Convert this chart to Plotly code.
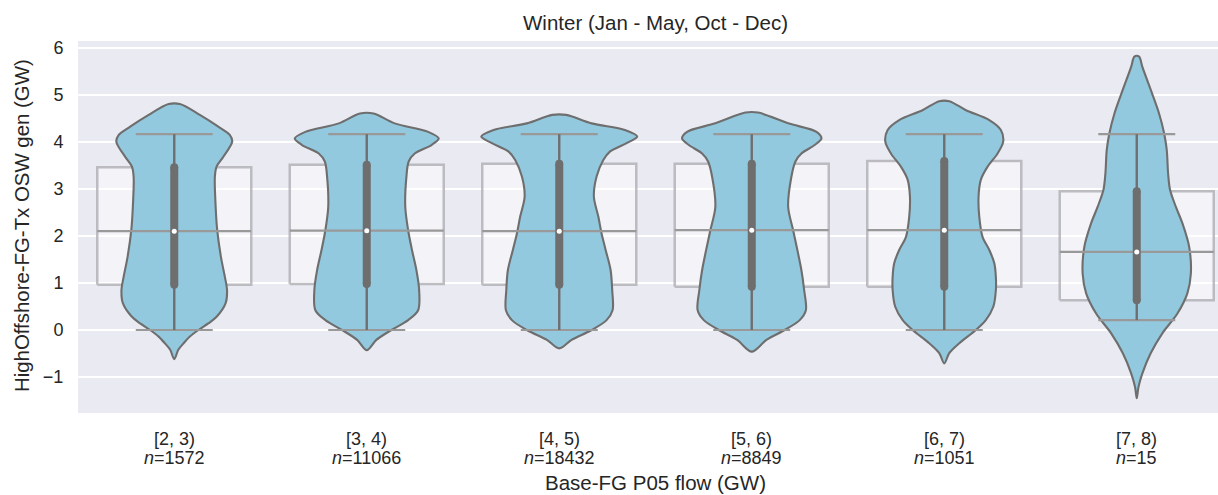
import plotly.graph_objects as go

# Flow bins on the x axis and number of hours in each bin
categories = ["[2, 3)", "[3, 4)", "[4, 5)", "[5, 6)", "[6, 7)", "[7, 8)"]
counts = [1572, 11066, 18432, 8849, 1051, 15]

# Box statistics of generation (GW) per bin
q1 = [0.96, 0.98, 0.96, 0.92, 0.92, 0.63]
median = [2.10, 2.11, 2.10, 2.12, 2.12, 1.66]
q3 = [3.46, 3.51, 3.53, 3.53, 3.59, 2.95]
whisker_lo = [0.0, 0.0, 0.0, 0.0, 0.0, 0.21]
whisker_hi = [4.16, 4.16, 4.16, 4.16, 4.16, 4.16]

# Kernel density profiles (GW level, relative density; peak of all bins = 1)
kde_level = [
    [-0.62, -0.42, -0.29, -0.14, 0.00, 0.14, 0.28, 0.57, 0.85, 1.13, 1.56,
     2.12, 2.62, 3.26, 3.47, 3.68, 4.00, 4.14, 4.32, 4.57, 4.80],
    [-0.43, -0.21, 0.00, 0.21, 0.42, 0.85, 1.27, 1.70, 2.12, 2.62, 3.26,
     3.58, 3.75, 3.93, 4.07, 4.21, 4.39, 4.60],
    [-0.39, -0.21, 0.00, 0.21, 0.42, 0.85, 1.27, 1.70, 2.05, 2.41, 2.83,
     3.26, 3.61, 3.79, 3.97, 4.11, 4.25, 4.39, 4.57],
    [-0.46, -0.21, 0.00, 0.21, 0.42, 0.85, 1.27, 1.70, 2.12, 2.62, 3.26,
     3.58, 3.75, 3.93, 4.07, 4.21, 4.39, 4.62],
    [-0.71, -0.49, -0.28, 0.00, 0.21, 0.50, 0.85, 1.13, 1.42, 1.70, 1.98,
     2.41, 2.83, 3.19, 3.47, 3.75, 4.00, 4.25, 4.46, 4.67, 4.86],
    [-1.45, -1.21, -0.92, -0.49, -0.07, 0.35, 0.78, 1.20, 1.77, 2.27, 2.62,
     2.98, 3.33, 3.82, 4.18, 4.60, 5.10, 5.59, 5.81],
]
kde_density = [
    [0.0, 0.052, 0.116, 0.200, 0.309, 0.437, 0.543, 0.659, 0.677, 0.649, 0.598,
     0.551, 0.531, 0.521, 0.543, 0.630, 0.743, 0.714, 0.565, 0.328, 0.072],
    [0.0, 0.123, 0.316, 0.531, 0.659, 0.672, 0.637, 0.580, 0.531, 0.494, 0.509,
     0.538, 0.615, 0.830, 0.923, 0.788, 0.358, 0.086],
    [0.0, 0.158, 0.415, 0.607, 0.684, 0.679, 0.659, 0.595, 0.543, 0.501, 0.444,
     0.479, 0.565, 0.649, 0.864, 1.000, 0.842, 0.415, 0.089],
    [0.0, 0.188, 0.422, 0.615, 0.694, 0.672, 0.637, 0.585, 0.531, 0.467, 0.509,
     0.560, 0.637, 0.807, 0.894, 0.830, 0.467, 0.081],
    [0.0, 0.064, 0.193, 0.405, 0.533, 0.630, 0.662, 0.662, 0.642, 0.578, 0.491,
     0.449, 0.440, 0.469, 0.556, 0.684, 0.756, 0.726, 0.578, 0.279, 0.064],
    [0.0, 0.022, 0.072, 0.180, 0.328, 0.521, 0.649, 0.694, 0.672, 0.585, 0.501,
     0.427, 0.402, 0.385, 0.351, 0.286, 0.180, 0.072, 0.030],
]

y_ticks = [-1, 0, 1, 2, 3, 4, 5, 6]

# Styling
FONT = "Liberation Sans, Arial, sans-serif"
TEXT = "#262626"
BG = "#EAEAF2"
VIOLIN_FILL = "#93C9DE"
VIOLIN_LINE = "#6E6E6E"
BOX_LINE = "#999999"
VIOLIN_HALF = 0.405   # half width of the widest violin (category units)
BOX_HALF = 0.4
CAP_HALF = 0.2

W, H = 1218, 495
L, R, T, B = 78, 0, 41, 82
plot_w = W - L - R
plot_h = H - T - B
# categorical spacing: 192.5 px per bin, first bin centred 96 px from the left edge
x_range = [-0.5, -0.5 + plot_w / 192.5]
y_range = [-1.763, 6.14]


def paper_y(px):
    """Pixel row (from the top of the figure) to paper y."""
    return ((H - B) - px) / plot_h


fig = go.Figure()

# translucent boxes behind the violins
for i in range(len(categories)):
    fig.add_trace(go.Scatter(
        x=[i - BOX_HALF, i + BOX_HALF, i + BOX_HALF, i - BOX_HALF, i - BOX_HALF],
        y=[q1[i], q1[i], q3[i], q3[i], q1[i]],
        mode="lines", fill="toself",
        fillcolor="rgba(255,255,255,0.45)",
        line=dict(color="rgba(170,170,175,0.75)", width=2.5),
        hoverinfo="skip", showlegend=False))

# violins
for i in range(len(categories)):
    lv = kde_level[i]
    dn = kde_density[i]
    right_x = [i + VIOLIN_HALF * d for d in dn]
    left_x = [i - VIOLIN_HALF * d for d in dn[::-1]]
    fig.add_trace(go.Scatter(
        x=right_x + left_x,
        y=lv + lv[::-1],
        mode="lines", fill="toself", fillcolor=VIOLIN_FILL,
        line=dict(color=VIOLIN_LINE, width=2.1, shape="spline", smoothing=0.9),
        hoverinfo="skip", showlegend=False))

# box medians and whisker caps drawn over the violins
for i in range(len(categories)):
    for (half, val) in [(BOX_HALF, median[i]), (CAP_HALF, whisker_lo[i]),
                        (CAP_HALF, whisker_hi[i])]:
        fig.add_trace(go.Scatter(
            x=[i - half, i + half], y=[val, val], mode="lines",
            line=dict(color=BOX_LINE, width=2.2),
            hoverinfo="skip", showlegend=False))

# inner box of each violin: whisker line, IQR bar with rounded ends, median dot
for i in range(len(categories)):
    fig.add_trace(go.Scatter(
        x=[i, i], y=[whisker_lo[i], whisker_hi[i]], mode="lines",
        line=dict(color=VIOLIN_LINE, width=2.4),
        hoverinfo="skip", showlegend=False))
    fig.add_trace(go.Scatter(
        x=[i, i], y=[q1[i], q3[i]], mode="lines+markers",
        line=dict(color=VIOLIN_LINE, width=8),
        marker=dict(color=VIOLIN_LINE, size=8, line=dict(width=0)),
        hoverinfo="skip", showlegend=False))
fig.add_trace(go.Scatter(
    x=list(range(len(categories))), y=median, mode="markers",
    marker=dict(color="white", size=5, line=dict(width=0)),
    hoverinfo="skip", showlegend=False))

# two-line category labels under the axis
annotations = []
for i, (c, n) in enumerate(zip(categories, counts)):
    annotations.append(dict(
        text=c, xref="x", yref="paper", x=i, y=paper_y(439),
        xanchor="center", yanchor="middle", showarrow=False,
        font=dict(size=18, color=TEXT)))
    annotations.append(dict(
        text=f"<i>n</i>={n}", xref="x", yref="paper", x=i, y=paper_y(458),
        xanchor="center", yanchor="middle", showarrow=False,
        font=dict(size=18, color=TEXT)))

annotations += [
    dict(text="Winter (Jan - May, Oct - Dec)", xref="paper", yref="paper",
         x=(655.5 - L) / plot_w, y=paper_y(22),
         xanchor="center", yanchor="middle", showarrow=False,
         font=dict(size=20.5, color=TEXT)),
    dict(text="Base-FG P05 flow (GW)", xref="paper", yref="paper",
         x=(655.5 - L) / plot_w, y=paper_y(482),
         xanchor="center", yanchor="middle", showarrow=False,
         font=dict(size=20.5, color=TEXT)),
    dict(text="HighOffshore-FG-Tx OSW gen (GW)", xref="paper", yref="paper",
         x=(22 - L) / plot_w, y=paper_y(226),
         xanchor="center", yanchor="middle", textangle=-90, showarrow=False,
         font=dict(size=20.4, color=TEXT)),
]

fig.update_layout(
    width=W, height=H,
    margin=dict(l=L, r=R, t=T, b=B, pad=0),
    paper_bgcolor="white", plot_bgcolor=BG,
    font=dict(family=FONT, color=TEXT, size=18),
    xaxis=dict(range=x_range, showticklabels=False,
               showgrid=False, zeroline=False, showline=False, ticks=""),
    yaxis=dict(range=y_range, tickmode="array", tickvals=y_ticks,
               showgrid=True, gridcolor="white", gridwidth=1.6,
               zeroline=False, showline=False,
               ticks="outside", ticklen=10, tickcolor="rgba(0,0,0,0)",
               tickfont=dict(size=18, color=TEXT)),
    annotations=annotations,
)

fig.write_html("out.html")
